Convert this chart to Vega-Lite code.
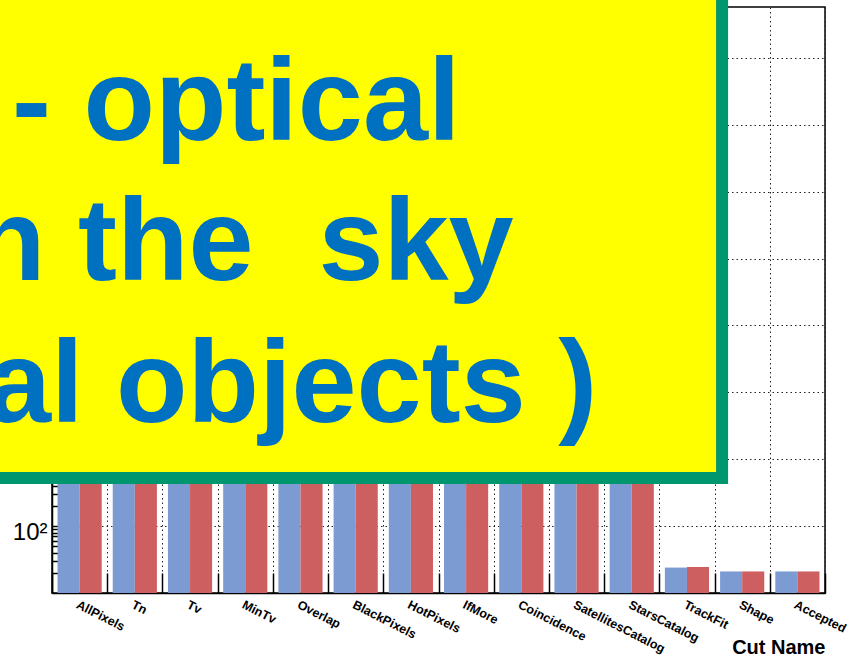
{
  "$schema": "https://vega.github.io/schema/vega-lite/v6.json",
  "width": 773,
  "height": 586,
  "autosize": {"type": "none"},
  "padding": {"left": 52, "top": 7, "right": 35, "bottom": 65},
  "background": "white",
  "config": {
    "view": {"stroke": "#000000", "strokeWidth": 1.5},
    "axis": {"zindex": 0}
  },
  "layer": [
    {
      "data": {
        "values": [
          {"cut": "AllPixels", "series": "A", "count": 2000000000},
          {"cut": "AllPixels", "series": "B", "count": 2000000000},
          {"cut": "Tn", "series": "A", "count": 400000000},
          {"cut": "Tn", "series": "B", "count": 410000000},
          {"cut": "Tv", "series": "A", "count": 150000000},
          {"cut": "Tv", "series": "B", "count": 155000000},
          {"cut": "MinTv", "series": "A", "count": 60000000},
          {"cut": "MinTv", "series": "B", "count": 62000000},
          {"cut": "Overlap", "series": "A", "count": 30000000},
          {"cut": "Overlap", "series": "B", "count": 31000000},
          {"cut": "BlackPixels", "series": "A", "count": 25000000},
          {"cut": "BlackPixels", "series": "B", "count": 26000000},
          {"cut": "HotPixels", "series": "A", "count": 20000000},
          {"cut": "HotPixels", "series": "B", "count": 21000000},
          {"cut": "IfMore", "series": "A", "count": 1000000},
          {"cut": "IfMore", "series": "B", "count": 1050000},
          {"cut": "Coincidence", "series": "A", "count": 200000},
          {"cut": "Coincidence", "series": "B", "count": 210000},
          {"cut": "SatellitesCatalog", "series": "A", "count": 150000},
          {"cut": "SatellitesCatalog", "series": "B", "count": 155000},
          {"cut": "StarsCatalog", "series": "A", "count": 100000},
          {"cut": "StarsCatalog", "series": "B", "count": 104000},
          {"cut": "TrackFit", "series": "A", "count": 24},
          {"cut": "TrackFit", "series": "B", "count": 24.5},
          {"cut": "Shape", "series": "A", "count": 21},
          {"cut": "Shape", "series": "B", "count": 21},
          {"cut": "Accepted", "series": "A", "count": 21},
          {"cut": "Accepted", "series": "B", "count": 21}
        ]
      },
      "mark": {"type": "bar", "clip": false},
      "encoding": {
        "x": {
          "field": "cut",
          "type": "nominal",
          "sort": null,
          "scale": {"paddingInner": 0, "paddingOuter": 0},
          "axis": {
            "tickBand": "extent",
            "ticks": true,
            "tickSize": -20,
            "tickWidth": 1.5,
            "tickColor": "#000000",
            "domainColor": "#000000",
            "domainWidth": 1.5,
            "grid": true,
            "gridColor": "#222222",
            "gridDash": [1.5, 3],
            "gridWidth": 1,
            "labelAngle": 27,
            "labelAlign": "left",
            "labelBaseline": "top",
            "labelPadding": 25,
            "labelFont": "Liberation Sans, Arial, sans-serif",
            "labelFontSize": 12.5,
            "labelFontWeight": "bold",
            "labelColor": "#000000",
            "title": "Cut Name",
            "titleFont": "Liberation Sans, Arial, sans-serif",
            "titleFontSize": 20,
            "titleFontWeight": "bold",
            "titleColor": "#000000",
            "titleAnchor": "end",
            "titleAlign": "right",
            "titleBaseline": "alphabetic",
            "titleY": 60
          }
        },
        "xOffset": {
          "field": "series",
          "type": "nominal",
          "scale": {"paddingInner": 0, "paddingOuter": 0.25}
        },
        "y": {
          "field": "count",
          "type": "quantitative",
          "stack": null,
          "scale": {"type": "log", "domain": [10, 5750000000], "nice": false},
          "axis": {
            "title": null,
            "values": [20, 30, 40, 50, 60, 70, 80, 90, 100, 200, 300, 400, 500, 600, 700, 800, 900, 1000, 2000, 3000, 4000, 5000, 6000, 7000, 8000, 9000, 10000, 20000, 30000, 40000, 50000, 60000, 70000, 80000, 90000, 100000, 200000, 300000, 400000, 500000, 600000, 700000, 800000, 900000, 1000000, 2000000, 3000000, 4000000, 5000000, 6000000, 7000000, 8000000, 9000000, 10000000, 20000000, 30000000, 40000000, 50000000, 60000000, 70000000, 80000000, 90000000, 100000000, 200000000, 300000000, 400000000, 500000000, 600000000, 700000000, 800000000, 900000000, 1000000000, 2000000000, 3000000000, 4000000000, 5000000000],
            "domainColor": "#000000",
            "domainWidth": 1.5,
            "tickColor": "#000000",
            "tickWidth": 1.5,
            "tickSize": {"condition": {"test": "abs(log(datum.value)/LN10 - round(log(datum.value)/LN10)) < 0.000001", "value": -21}, "value": -11},
            "grid": true,
            "gridColor": "#222222",
            "gridDash": [1.5, 3],
            "gridWidth": 1,
            "gridOpacity": {"condition": {"test": "abs(log(datum.value)/LN10 - round(log(datum.value)/LN10)) < 0.000001", "value": 1}, "value": 0},
            "labelExpr": "datum.value == 100 ? '10²' : ''",
            "labelFont": "Liberation Sans, Arial, sans-serif",
            "labelFontSize": 24,
            "labelColor": "#000000",
            "labelPadding": 26,
            "labelOffset": 6,
            "labelBaseline": "middle"
          }
        },
        "y2": {"datum": 10},
        "color": {
          "field": "series",
          "type": "nominal",
          "scale": {"domain": ["A", "B"], "range": ["#7c9bd3", "#ce5f61"]},
          "legend": null
        }
      }
    },
    {
      "data": {"values": [{"note": "box"}]},
      "mark": {"type": "rect", "clip": false, "fill": "#ffff00", "stroke": "#00966e", "strokeWidth": 12},
      "encoding": {
        "x": {"datum": "AllPixels", "bandPosition": -2},
        "x2": {"datum": "Shape", "bandPosition": 0.136},
        "y": {"datum": 524},
        "y2": {"datum": 1000000000000}
      }
    },
    {
      "data": {"values": [{"line": "- optical"}]},
      "mark": {"type": "text", "clip": false, "align": "left", "baseline": "alphabetic", "font": "Liberation Sans, Arial, sans-serif", "fontWeight": "bold", "fontSize": 117, "color": "#0070c0"},
      "encoding": {
        "text": {"field": "line"},
        "x": {"datum": "AllPixels", "bandPosition": -0.7245},
        "y": {"datum": 59100000}
      }
    },
    {
      "data": {"values": [{"line": "n the \u00a0sky"}]},
      "mark": {"type": "text", "clip": false, "align": "left", "baseline": "alphabetic", "font": "Liberation Sans, Arial, sans-serif", "fontWeight": "bold", "fontSize": 117, "color": "#0070c0"},
      "encoding": {
        "text": {"field": "line"},
        "x": {"datum": "AllPixels", "bandPosition": -1.413},
        "y": {"datum": 477000}
      }
    },
    {
      "data": {"values": [{"line": "al objects )"}]},
      "mark": {"type": "text", "clip": false, "align": "left", "baseline": "alphabetic", "font": "Liberation Sans, Arial, sans-serif", "fontWeight": "bold", "fontSize": 117, "color": "#0070c0"},
      "encoding": {
        "text": {"field": "line"},
        "x": {"datum": "AllPixels", "bandPosition": -1.195},
        "y": {"datum": 3598}
      }
    }
  ]
}
